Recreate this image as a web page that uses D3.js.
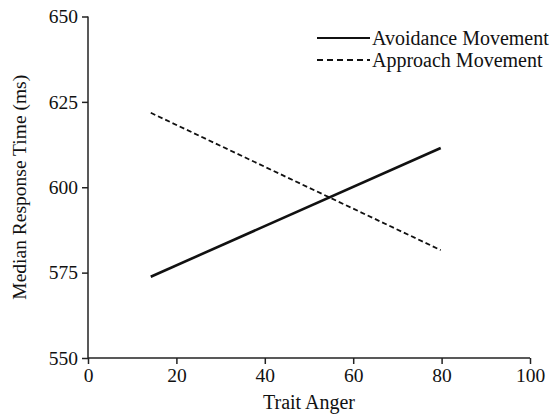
<!DOCTYPE html>
<html>
<head>
<meta charset="utf-8">
<script src="https://cdn.jsdelivr.net/npm/d3@7"></script>
<style>
  body { margin: 0; background: #fff; }
  svg text { font-family: "Liberation Serif", "Times New Roman", serif; fill: #111; }
</style>
</head>
<body>
<div id="chart"></div>
<script>
// Data
var seriesNames = ["Avoidance Movement", "Approach Movement"];
var traitAnger = [14.2, 79.8];
var avoidanceRT = [573.8, 611.5];
var approachRT = [621.8, 581.6];
var xTicks = [0, 20, 40, 60, 80, 100];
var yTicks = [550, 575, 600, 625, 650];

// Canvas
var svgWidth = 551;
var svgHeight = 415;
var margin = { top: 16.5, right: 21, bottom: 57, left: 88 };
var width = svgWidth - margin.left - margin.right;
var height = svgHeight - margin.top - margin.bottom;

var svg = d3.select("#chart")
  .append("svg")
  .attr("width", svgWidth)
  .attr("height", svgHeight);

var chartGroup = svg.append("g")
  .attr("transform", `translate(${margin.left}, ${margin.top})`);

// Scales
var xScale = d3.scaleLinear().domain([0, 100]).range([0, width]);
var yScale = d3.scaleLinear().domain([550, 650]).range([height, 0]);

// Axes
var bottomAxis = d3.axisBottom(xScale).tickValues(xTicks).tickSize(6).tickPadding(4);
var leftAxis = d3.axisLeft(yScale).tickValues(yTicks).tickSize(6).tickPadding(4);

var xg = chartGroup.append("g")
  .attr("transform", `translate(0, ${height})`)
  .call(bottomAxis);
var yg = chartGroup.append("g").call(leftAxis);

[xg, yg].forEach(function(g) {
  g.select(".domain").attr("stroke", "#222").attr("stroke-width", 1.5);
  g.selectAll(".tick line").attr("stroke", "#222").attr("stroke-width", 1.5);
  g.selectAll(".tick text").style("font-size", "19.5px").attr("fill", "#111");
});
// keep the domain free of end caps
xg.select(".domain").attr("d", `M0,0H${width}`);
yg.select(".domain").attr("d", `M0,${height}V0`);

// Lines
var rows = traitAnger.map(function(x, i) {
  return { x: x, avoid: avoidanceRT[i], approach: approachRT[i] };
});

var avoidLine = d3.line().x(d => xScale(d.x)).y(d => yScale(d.avoid));
var approachLine = d3.line().x(d => xScale(d.x)).y(d => yScale(d.approach));

chartGroup.append("path")
  .datum(rows)
  .attr("d", approachLine)
  .attr("fill", "none")
  .attr("stroke", "#111")
  .attr("stroke-width", 1.8)
  .attr("stroke-dasharray", "5,3");

chartGroup.append("path")
  .datum(rows)
  .attr("d", avoidLine)
  .attr("fill", "none")
  .attr("stroke", "#111")
  .attr("stroke-width", 2.6);

// Legend
var legend = svg.append("g").attr("transform", "translate(317, 38)");
seriesNames.forEach(function(name, i) {
  var row = legend.append("g").attr("transform", `translate(0, ${i * 22})`);
  row.append("line")
    .attr("x1", 0).attr("x2", 53)
    .attr("y1", 0).attr("y2", 0)
    .attr("stroke", "#111")
    .attr("stroke-width", i === 0 ? 2.2 : 1.8)
    .attr("stroke-dasharray", i === 0 ? null : "6,4");
  row.append("text")
    .attr("x", 55)
    .attr("y", 0)
    .attr("dy", "0.35em")
    .style("font-size", "20px")
    .text(name);
});

// Axis titles
chartGroup.append("text")
  .attr("transform", "rotate(-90)")
  .attr("x", -height / 2)
  .attr("y", -62)
  .attr("text-anchor", "middle")
  .style("font-size", "19.5px")
  .text("Median Response Time (ms)");

chartGroup.append("text")
  .attr("x", width / 2)
  .attr("y", height + 51)
  .attr("text-anchor", "middle")
  .style("font-size", "20px")
  .text("Trait Anger");
</script>
</body>
</html>
